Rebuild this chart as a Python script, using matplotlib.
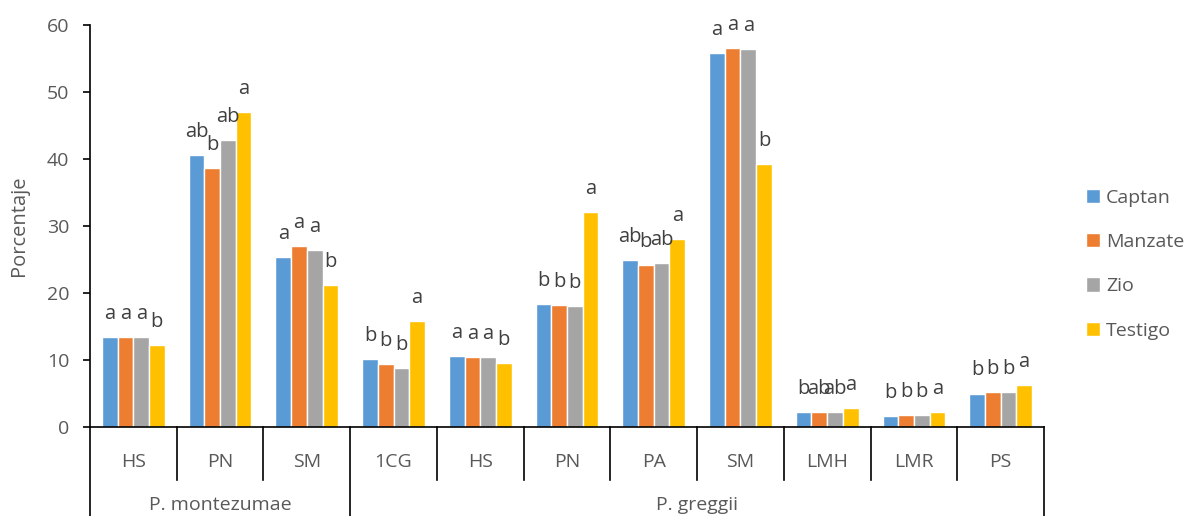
import numpy as np
import matplotlib.pyplot as plt
from matplotlib.transforms import blended_transform_factory

plt.rcParams['font.family'] = ['Open Sans', 'DejaVu Sans']

categories = ['HS', 'PN', 'SM', '1CG', 'HS', 'PN', 'PA', 'SM', 'LMH', 'LMR', 'PS']
groups = ['P. montezumae', 'P. greggii']
group_sizes = [3, 8]
series = ['Captan', 'Manzate', 'Zio', 'Testigo']
colors = ['#5B9BD5', '#ED7D31', '#A5A5A5', '#FFC000']

captan = [13.4, 40.6, 25.4, 10.1, 10.6, 18.3, 24.9, 55.8, 2.2, 1.7, 5.0]
manzate = [13.4, 38.6, 27.0, 9.4, 10.4, 18.2, 24.2, 56.5, 2.3, 1.8, 5.2]
zio = [13.4, 42.8, 26.4, 8.8, 10.5, 18.1, 24.5, 56.4, 2.3, 1.8, 5.2]
testigo = [12.3, 47.0, 21.2, 15.8, 9.5, 32.1, 28.0, 39.3, 2.8, 2.2, 6.3]

let_captan = ['a', 'ab', 'a', 'b', 'a', 'b', 'ab', 'a', 'b', 'b', 'b']
let_manzate = ['a', 'b', 'a', 'b', 'a', 'b', 'b', 'a', 'ab', 'b', 'b']
let_zio = ['a', 'ab', 'a', 'b', 'a', 'b', 'ab', 'a', 'ab', 'b', 'b']
let_testigo = ['b', 'a', 'b', 'a', 'b', 'a', 'a', 'b', 'a', 'a', 'a']

values = [captan, manzate, zio, testigo]
letters = [let_captan, let_manzate, let_zio, let_testigo]

fig = plt.figure(figsize=(11.94, 5.16), dpi=100)
ax = fig.add_axes([90/1194, 89/516, 954/1194, 402/516])

x = np.arange(len(categories))
w = 0.181
for i, (vals, lets) in enumerate(zip(values, letters)):
    pos = x + (i - 1.5) * w
    ax.bar(pos, vals, width=w, color=colors[i], edgecolor='white', linewidth=1.0, label=series[i])
    for px, v, t in zip(pos, vals, lets):
        ax.annotate(t, (px, v), xytext=(0, 13), textcoords='offset points',
                    ha='center', va='baseline', fontsize=14.5, color='#404040')

ax.set_xlim(-0.5, len(categories) - 0.5)
ax.set_ylim(0, 60)
ax.set_yticks(range(0, 61, 10))
ax.tick_params(axis='y', labelsize=14, labelcolor='#595959', length=5, width=1.2, color='black', pad=10)
ax.set_xticks([])
for s in ['top', 'right']:
    ax.spines[s].set_visible(False)
ax.spines['left'].set_linewidth(1.2)
ax.spines['bottom'].set_linewidth(1.2)
ax.set_ylabel('Porcentaje', fontsize=14.5, color='#595959', labelpad=13)

# two-level category axis
tr = blended_transform_factory(ax.transData, ax.transAxes)
for i, c in enumerate(categories):
    ax.text(i, -0.087, c, transform=tr, ha='center', va='center', fontsize=14, color='#595959')
bounds = [0] + list(np.cumsum(group_sizes))
for b in range(len(categories) + 1):
    y_end = -0.25 if b in bounds else -0.132
    ax.plot([b - 0.5, b - 0.5], [0, y_end], transform=tr, color='black', lw=1.2, clip_on=False)
for g, start, end in zip(groups, bounds[:-1], bounds[1:]):
    ax.text((start + end - 1) / 2, -0.194, g, transform=tr, ha='center', va='center',
            fontsize=14, color='#595959')

fig.legend(loc='center left', bbox_to_anchor=(1068/1194, 0.488), frameon=False, fontsize=14,
           handlelength=0.75, handleheight=0.75, handletextpad=0.3, labelspacing=1.35,
           labelcolor='#595959')

fig.savefig('out.png', dpi=100)
